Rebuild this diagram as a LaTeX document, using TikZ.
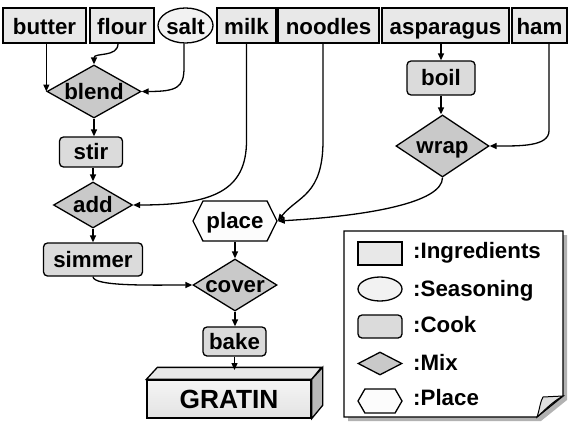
\documentclass[tikz,border=0pt]{standalone}
\usepackage{fontspec}
\setmainfont{Liberation Sans}
\usetikzlibrary{shapes.geometric,shapes.symbols,arrows.meta}
\definecolor{ingfill}{gray}{0.91}
\definecolor{seafill}{gray}{0.95}
\definecolor{cookfill}{gray}{0.86}
\definecolor{mixfill}{gray}{0.79}
\definecolor{plfill}{gray}{0.99}
\begin{document}
\begin{tikzpicture}[x=1pt,y=-1pt,
  every node/.style={font=\bfseries\fontsize{22.3}{26}\selectfont, inner sep=0pt, text height=15.5pt, text depth=0pt},
  ing/.style={draw, line width=1.3pt, rectangle, fill=ingfill, minimum height=35, text height=17.5pt},
  sea/.style={draw, line width=1.3pt, ellipse, fill=seafill, minimum height=35},
  cook/.style={draw, line width=1.3pt, rectangle, rounded corners=4, fill=cookfill},
  mix/.style={draw, line width=1.3pt, diamond, fill=mixfill},
  plc/.style={draw, line width=1.3pt, signal, signal to=east and west, signal pointer angle=127, fill=plfill},
  conn/.style={line width=1.3pt, -{Triangle[length=7pt,width=6pt]}},
  legtext/.style={anchor=base west, text height=, text depth=}
]
\useasboundingbox (0,0) rectangle (569,423);

% ingredients
\node[ing, minimum width=83] (butter) at (44.5,25.5) {butter};
\node[ing, minimum width=64] (flour) at (122,25.5) {flour};
\node[sea, minimum width=55, label={[text height=17.5pt]center:salt}] (salt) at (185.5,25.5) {};
\node[ing, minimum width=59] (milk) at (246.5,25.5) {milk};
\node[ing, minimum width=101] (noodles) at (328.5,25.5) {noodles};
\node[ing, minimum width=127] (asparagus) at (445.5,25.5) {asparagus};
\node[ing, minimum width=55] (ham) at (539.5,25.5) {ham};

% process
\node[mix, minimum width=94, minimum height=53, label=center:blend] (blend) at (94,91.5) {};
\node[cook, minimum width=63, minimum height=30] (stir) at (91,152) {stir};
\node[mix, minimum width=79, minimum height=46, label=center:add] (add) at (93,205) {};
\node[cook, minimum width=99, minimum height=33] (simmer) at (93,259.5) {simmer};
\node[plc, minimum width=84, minimum height=40, label=center:place] (place) at (235,221) {};
\node[mix, minimum width=84, minimum height=52, label=center:cover] (cover) at (235,285) {};
\node[cook, minimum width=63, minimum height=29] (bake) at (234.5,341.5) {bake};
\node[cook, minimum width=68, minimum height=34] (boil) at (441,78) {boil};
\node[mix, minimum width=93, minimum height=62, label=center:wrap] (wrap) at (442.5,146) {};

% gratin box
\node[draw, line width=1.3pt, top color=gray!8, bottom color=gray!22, minimum width=164, minimum height=38,
      font=\bfseries\fontsize{26.3}{30}\selectfont, text height=19pt] (gratin) at (229,399) {GRATIN};
\draw[line width=1.3pt, fill=gray!18] (gratin.north west) -- ++(11,-12) -- ++(164,0) -- (gratin.north east) -- cycle;
\draw[line width=1.3pt, fill=gray!55] (gratin.north east) -- ++(11,-12) -- ++(0,38) -- (gratin.south east) -- cycle;
\coordinate (gtop) at (234.5,370);

% connectors
\draw[conn] (butter.south -| blend.west) -- (blend.west);
\draw[conn] ([xshift=-4pt]flour.south) .. controls +(0,14) and +(0,-12) .. (blend.north);
\draw[conn] ([xshift=-1.5pt]salt.south) -- ++(0,24) .. controls +(0,20) and +(35,0) .. (blend.east);
\draw[conn] (blend.south) -- (blend.south |- stir.north);
\draw[conn] (stir.south -| add.north) -- (add.north);
\draw[conn] (add.south) -- (simmer.north);
\draw[conn] (milk.south) -- ++(0,97) .. controls +(0,50) and +(80,0) .. (add.east);
\draw[conn] ([xshift=-5.5pt]noodles.south) -- ++(0,97) .. controls +(0,55) and +(20,-25) .. (place.east);
\draw[conn] (wrap.south) .. controls +(0,25) and +(90,-5) .. (place.east);
\draw[conn] ([xshift=9.5pt]ham.south) -- ++(0,87) .. controls +(0,16) and +(30,0) .. (wrap.east);
\draw[conn] (asparagus.south -| boil.north) -- (boil.north);
\draw[conn] (boil.south) -- (boil.south |- wrap.north);
\draw[conn] (simmer.south) .. controls +(0,10) and +(-40,0) .. (cover.west);
\draw[conn] (place.south) -- (cover.north);
\draw[conn] (cover.south) -- (cover.south |- bake.north);
\draw[conn] (bake.south) -- (gtop);

% legend
\fill[gray!60] (348,235) -- (567,235) -- (567,400) -- (541,421) -- (348,421) -- cycle;
\draw[line width=1.3pt, fill=white] (344,231) -- (563,231) -- (563,396) -- (537,417) -- (344,417) -- cycle;
\draw[line width=1pt, fill=gray!25] (537,417) .. controls (540,408) and (540,402) .. (543,397) -- (563,396) .. controls (552,402) and (545,410) .. cycle;

\node[ing, minimum width=44, minimum height=23] (lg1) at (380,253.5) {};
\node[sea, minimum width=44, minimum height=24] (lg2) at (380,289) {};
\node[cook, minimum width=44, minimum height=23] (lg3) at (380,326.5) {};
\node[mix, minimum width=44, minimum height=23] (lg4) at (380,363.5) {};
\node[plc, minimum width=44, minimum height=24, signal pointer angle=120] (lg5) at (380,401) {};
\node[legtext] (t1) at (413,258) {:Ingredients};
\node[legtext] (t2) at (413,296) {:Seasoning};
\node[legtext] (t3) at (413,332) {:Cook};
\node[legtext] (t4) at (413,370) {:Mix};
\node[legtext] (t5) at (413,405) {:Place};
\end{tikzpicture}
\end{document}
